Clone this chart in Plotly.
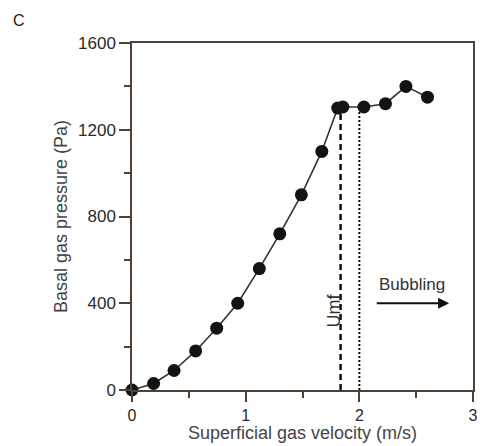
import plotly.graph_objects as go

# Measured basal pressure vs. superficial gas velocity
velocity = [0.0, 0.19, 0.37, 0.56, 0.745, 0.93, 1.12, 1.30, 1.49, 1.67, 1.81, 1.855, 2.04, 2.23, 2.41, 2.60]
pressure = [0, 30, 90, 180, 285, 400, 560, 720, 900, 1100, 1300, 1305, 1305, 1320, 1400, 1350]

# Minimum fluidisation velocity markers
umf_dashed = 1.835
umf_dotted = 2.0
umf_pressure = 1300

x_ticks = [0, 1, 2, 3]
y_ticks = [0, 400, 800, 1200, 1600]

axis_color = "#4f4038"
font = "Liberation Sans, Arial, sans-serif"

fig = go.Figure()

fig.add_trace(go.Scatter(
    x=[umf_dashed, umf_dashed], y=[0, umf_pressure], mode="lines",
    line=dict(color="#111111", width=2.5, dash="6px,4px"),
    hoverinfo="skip", showlegend=False,
))
fig.add_trace(go.Scatter(
    x=[umf_dotted, umf_dotted], y=[0, umf_pressure], mode="lines",
    line=dict(color="#111111", width=2, dash="2px,2px"),
    hoverinfo="skip", showlegend=False,
))
fig.add_trace(go.Scatter(
    x=velocity, y=pressure, mode="lines+markers",
    line=dict(color="#3b302b", width=1.6),
    marker=dict(size=13, color="#151212"),
    cliponaxis=False, showlegend=False,
))

fig.add_annotation(
    x=2.79, y=400, ax=2.14, ay=400, xref="x", yref="y", axref="x", ayref="y",
    text="", showarrow=True, arrowhead=2, arrowsize=1.1, arrowwidth=2,
    arrowcolor="#111111",
)
fig.add_annotation(
    x=2.46, y=485, xref="x", yref="y", text="Bubbling", showarrow=False,
    font=dict(family=font, size=17, color="#333333"),
)
fig.add_annotation(
    x=1.775, y=365, xref="x", yref="y", text="Umf", showarrow=False,
    textangle=-90, font=dict(family=font, size=18, color="#333333"),
)
fig.add_annotation(
    x=-0.332, y=1.066, xref="paper", yref="paper", text="C", showarrow=False,
    xanchor="center", yanchor="middle",
    font=dict(family=font, size=16, color="#222222"),
)
fig.add_annotation(
    x=0.5, y=-0.125, xref="paper", yref="paper",
    text="Superficial gas velocity (m/s)", showarrow=False,
    xanchor="center", yanchor="middle",
    font=dict(family=font, size=18, color="#444444"),
)

fig.update_xaxes(
    range=[0, 3], tickvals=x_ticks, ticktext=[str(v) for v in x_ticks],
    ticks="outside", ticklen=10, tickwidth=1.5, tickcolor=axis_color,
    minor=dict(dtick=0.5, tick0=0, ticks="outside", ticklen=6, tickwidth=1.5, tickcolor=axis_color),
    showline=True, linecolor=axis_color, linewidth=1.5, mirror=True,
    showgrid=False, zeroline=False,
    tickfont=dict(family=font, size=16, color="#2a2a2a"),
)
fig.update_yaxes(
    range=[0, 1600], tickvals=y_ticks, ticktext=[str(v) for v in y_ticks],
    ticks="outside", ticklen=11, tickwidth=1.5, tickcolor=axis_color,
    minor=dict(dtick=200, tick0=0, ticks="outside", ticklen=6, tickwidth=1.5, tickcolor=axis_color),
    showline=True, linecolor=axis_color, linewidth=1.5, mirror=True,
    showgrid=False, zeroline=False,
    tickfont=dict(family=font, size=17, color="#2a2a2a"),
    title=dict(text="Basal gas pressure (Pa)", standoff=6,
               font=dict(family=font, size=18, color="#444444")),
)

fig.update_layout(
    width=486, height=446,
    margin=dict(l=132, r=8, t=43, b=56),
    plot_bgcolor="white", paper_bgcolor="white",
    font=dict(family=font),
)

fig.write_html("out.html")
